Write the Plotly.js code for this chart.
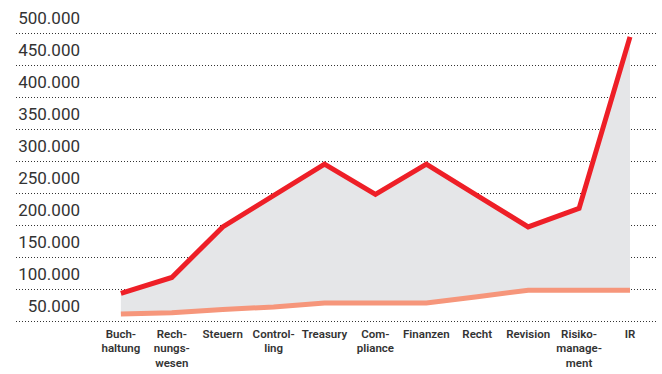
<!DOCTYPE html>
<html>
<head>
<meta charset="utf-8">
<script src="https://cdn.plot.ly/plotly-3.0.1.min.js"></script>
<style>html,body{margin:0;padding:0;background:#fff;}#chart{width:662px;height:374px;}</style>
</head>
<body>
<div id="chart"></div>
<script>
const categories = ["Buchhaltung","Rechnungswesen","Steuern","Controlling","Treasury","Compliance","Finanzen","Recht","Revision","Risikomanagement","IR"];
const categoryLabels = ["Buch-<br>haltung","Rech-<br>nungs-<br>wesen","Steuern","Control-<br>ling","Treasury","Com-<br>pliance","Finanzen","Recht","Revision","Risiko-<br>manage-<br>ment","IR"];
const minValues = [61000, 63000, 68000, 72000, 78000, 78000, 78000, 88000, 98000, 98000, 98000];
const maxValues = [93000, 118000, 197000, 247000, 295000, 248000, 295000, 246000, 197000, 226000, 494000];
const yTickVals = [50000,100000,150000,200000,250000,300000,350000,400000,450000,500000];
const yTickText = ["50.000","100.000","150.000","200.000","250.000","300.000","350.000","400.000","450.000","500.000"];

const traces = [
  {x: categories, y: minValues, type: 'scatter', mode: 'lines',
   line: {color: '#f6967b', width: 5}, hoverinfo: 'skip'},
  {x: categories, y: maxValues, type: 'scatter', mode: 'lines',
   line: {color: '#ee1f27', width: 5}, fill: 'tonexty', fillcolor: '#e5e6e8', hoverinfo: 'skip'}
];

const layout = {
  width: 662, height: 374,
  margin: {l: 16, r: 4, t: 31, b: 51},
  paper_bgcolor: '#fff', plot_bgcolor: '#fff',
  showlegend: false,
  xaxis: {
    type: 'category',
    range: [-2.06, 10.55],
    tickvals: categories, ticktext: categoryLabels,
    ticks: '', showgrid: false, zeroline: false, showline: false,
    ticklabelstandoff: 2,
    tickfont: {family: 'Roboto', size: 11.5, color: '#333', weight: 600},
    tickangle: 0
  },
  yaxis: {
    range: [46875, 503125],
    anchor: 'free', position: 0.0997,
    tickvals: yTickVals, ticktext: yTickText,
    ticks: '', showline: false, zeroline: false,
    showgrid: true, gridcolor: '#333', gridwidth: 1, griddash: '1px,2px',
    ticklabelshift: -15,
    tickfont: {family: 'Roboto', size: 17, color: '#333'}
  }
};

Plotly.newPlot('chart', traces, layout, {displayModeBar: false, staticPlot: true});
</script>
</body>
</html>
